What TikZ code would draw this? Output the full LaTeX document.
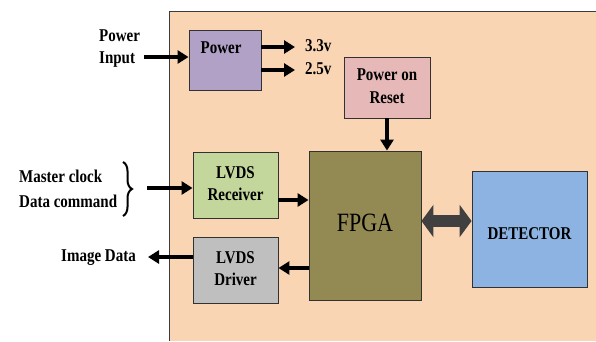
\documentclass[tikz,border=0pt]{standalone}
\usepackage{fontspec}
\setmainfont{Liberation Serif}
\usepackage{graphicx}
\usetikzlibrary{arrows.meta,decorations.pathreplacing}

\definecolor{panel}{RGB}{250,213,180}
\definecolor{panelline}{RGB}{60,60,60}
\definecolor{boxline}{RGB}{50,50,50}
\definecolor{pwrfill}{RGB}{178,161,199}
\definecolor{porfill}{RGB}{230,185,184}
\definecolor{recfill}{RGB}{195,214,155}
\definecolor{drvfill}{RGB}{191,191,191}
\definecolor{fpgafill}{RGB}{147,137,83}
\definecolor{detfill}{RGB}{141,179,226}
\definecolor{busgrey}{RGB}{64,64,64}

% text lines set slightly taller than wide
\newcommand\tallstack[2][c]{\scalebox{1}[1.2]{\begin{tabular}{@{}#1@{}}#2\end{tabular}}}

\begin{document}
\begin{tikzpicture}[x=1pt,y=-1pt,
  lbl/.style={inner sep=0pt, font=\fontsize{15}{18.5}\selectfont\bfseries},
  box/.style={draw=boxline, line width=0.9pt, inner sep=0pt},
  arr/.style={line width=4.5pt, -{Triangle[length=11pt,width=13pt]}},
  bus/.style={busgrey, line width=12.5pt,
    {Triangle[length=12pt,width=32pt]}-{Triangle[length=12pt,width=32pt]}},
]
\useasboundingbox (0,0) rectangle (596,341);

% board area
\fill[panel] (169,11) rectangle (596,341);
\draw[panelline, line width=1pt] (169,341) -- (169,11) -- (596,11);

% blocks
\node[box, fill=pwrfill, minimum width=72pt, minimum height=60pt,
      label={[lbl, xshift=-4pt, yshift=11pt]center:\tallstack{Power}}] (pwr) at (225,60) {};
\node[box, fill=porfill, minimum width=86pt, minimum height=61pt, lbl] (por) at (387,87.5)
      {\tallstack{Power on\\Reset}};
\node[box, fill=recfill, minimum width=85pt, minimum height=66pt, lbl] (rec) at (235.5,185)
      {\tallstack{LVDS\\Receiver}};
\node[box, fill=drvfill, minimum width=85pt, minimum height=66pt, lbl] (drv) at (235.5,270)
      {\tallstack{LVDS\\Driver}};
\node[box, fill=fpgafill, minimum width=112pt, minimum height=149pt,
      font=\fontsize{22}{26}\selectfont] (fpga) at (365,225.5) {\tallstack{FPGA}};
\node[box, fill=detfill, minimum width=115pt, minimum height=116pt,
      label={[lbl, yshift=-6pt]center:\tallstack{DETECTOR}}] (det) at (529.5,229) {};

% outside labels
\node[lbl, anchor=west] (pin) at (99,48) {\tallstack[l]{Power\\Input}};
\node[lbl, anchor=west] (v33) at (305,47) {\tallstack{3.3v}};
\node[lbl, anchor=west] (v25) at (305,70) {\tallstack{2.5v}};
\node[lbl, anchor=west] (mclk) at (19,190.5) {\tallstack[l]{Master clock\\[2.5pt]Data command}};
\node[lbl] (img) at (98.5,257) {\tallstack{Image Data}};

% free ends of the signal lines
\coordinate (pinEnd) at (144,57);
\coordinate (brTop) at (123,162);
\coordinate (brBot) at (123,216);
\coordinate (brOut) at (147,188);
\coordinate (imgTip) at (148,257);

% power lines
\draw[arr] (pinEnd) -- (pinEnd -| pwr.west);
\draw[arr] (pwr.east |- v33) -- ([xshift=-10pt]v33.west);
\draw[arr] (pwr.east |- v25) -- ([xshift=-10pt]v25.west);
\draw[arr] (por.south) -- (por.south |- fpga.north);

% LVDS links
\draw[line width=2pt, decorate, decoration={brace, amplitude=9pt}] (brTop) -- (brBot);
\draw[arr] (brOut) -- (brOut -| rec.west);
\draw[arr] ([yshift=-15pt]rec.east) -- ([yshift=-15pt]rec.east -| fpga.west);
\draw[arr] ([yshift=2pt]drv.east -| fpga.west) -- ([yshift=2pt]drv.east);
\draw[arr] ([yshift=13pt]drv.west) -- (imgTip);

% FPGA <-> detector bus
\draw[bus] ([yshift=4.5pt]fpga.east) -- ([yshift=4.5pt]fpga.east -| det.west);
\end{tikzpicture}
\end{document}
